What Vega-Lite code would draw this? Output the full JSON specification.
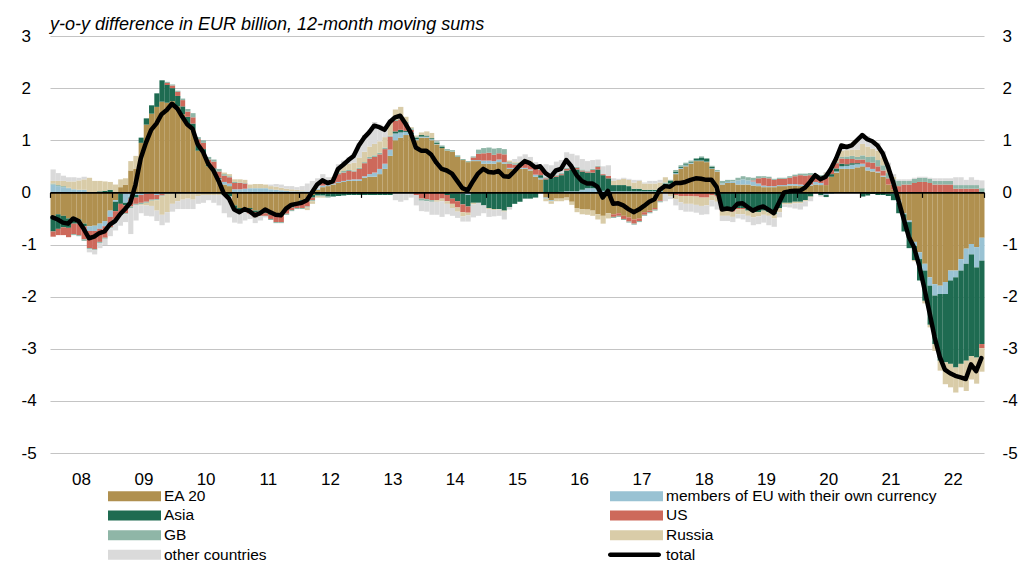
{
"$schema": "https://vega.github.io/schema/vega-lite/v6.json",
"width": 934, "height": 417,
"autosize": {"type": "none"},
"padding": {"left": 50, "top": 36, "right": 36, "bottom": 111},
"background": "white",
"title": {"text": "y-o-y difference in EUR billion, 12-month moving sums", "anchor": "start", "frame": "group", "orient": "top", "offset": 6, "dy": 27, "fontSize": 18, "fontStyle": "italic", "fontWeight": "normal", "color": "#000", "font": "Liberation Sans", "baseline": "alphabetic"},
"config": {"view": {"stroke": null}, "font": "Liberation Sans"},
"data": {"values": [
{"m":"2008-01-01","a":-0.45,"b":0.15,"c":-0.30,"d":-0.10,"e":0.02,"f":0.05,"g":0.22,"s":-0.48},
{"m":"2008-02-01","a":-0.42,"b":0.12,"c":-0.28,"d":-0.12,"e":0.02,"f":0.08,"g":0.15,"s":-0.52},
{"m":"2008-03-01","a":-0.45,"b":0.10,"c":-0.22,"d":-0.15,"e":0.02,"f":0.10,"g":0.10,"s":-0.58},
{"m":"2008-04-01","a":-0.50,"b":0.08,"c":-0.18,"d":-0.18,"e":0.01,"f":0.12,"g":0.08,"s":-0.60},
{"m":"2008-05-01","a":-0.48,"b":0.06,"c":-0.12,"d":-0.20,"e":-0.02,"f":0.15,"g":0.08,"s":-0.50},
{"m":"2008-06-01","a":-0.52,"b":0.05,"c":-0.08,"d":-0.22,"e":-0.02,"f":0.18,"g":0.05,"s":-0.55},
{"m":"2008-07-01","a":-0.60,"b":0.05,"c":-0.05,"d":-0.25,"e":-0.03,"f":0.20,"g":0.05,"s":-0.70},
{"m":"2008-08-01","a":-0.65,"b":-0.09,"c":0.00,"d":-0.33,"e":-0.02,"f":0.28,"g":-0.06,"s":-0.88},
{"m":"2008-09-01","a":-0.64,"b":-0.10,"c":0.00,"d":-0.35,"e":-0.02,"f":0.22,"g":-0.08,"s":-0.85},
{"m":"2008-10-01","a":-0.60,"b":-0.10,"c":0.02,"d":-0.25,"e":-0.02,"f":0.20,"g":-0.10,"s":-0.78},
{"m":"2008-11-01","a":-0.55,"b":-0.10,"c":0.03,"d":-0.22,"e":-0.02,"f":0.18,"g":-0.12,"s":-0.75},
{"m":"2008-12-01","a":-0.35,"b":-0.12,"c":0.05,"d":-0.20,"e":-0.02,"f":0.15,"g":-0.15,"s":-0.62},
{"m":"2009-01-01","a":-0.15,"b":-0.03,"c":-0.18,"d":-0.15,"e":-0.02,"f":0.15,"g":-0.20,"s":-0.55},
{"m":"2009-02-01","a":0.10,"b":-0.02,"c":-0.20,"d":-0.20,"e":-0.02,"f":0.15,"g":-0.20,"s":-0.42},
{"m":"2009-03-01","a":0.15,"b":-0.20,"c":-0.05,"d":-0.15,"e":-0.02,"f":0.12,"g":-0.15,"s":-0.32},
{"m":"2009-04-01","a":0.42,"b":-0.10,"c":-0.02,"d":-0.15,"e":-0.03,"f":0.18,"g":-0.50,"s":-0.20},
{"m":"2009-05-01","a":0.45,"b":-0.05,"c":-0.05,"d":-0.12,"e":-0.02,"f":0.25,"g":-0.30,"s":0.15},
{"m":"2009-06-01","a":0.95,"b":-0.05,"c":0.10,"d":-0.15,"e":-0.03,"f":-0.02,"g":-0.15,"s":0.65},
{"m":"2009-07-01","a":1.30,"b":-0.03,"c":0.12,"d":-0.15,"e":-0.02,"f":-0.05,"g":-0.20,"s":0.95},
{"m":"2009-08-01","a":1.51,"b":-0.02,"c":0.16,"d":-0.12,"e":-0.02,"f":-0.10,"g":-0.20,"s":1.20},
{"m":"2009-09-01","a":1.64,"b":-0.05,"c":0.26,"d":-0.08,"e":-0.02,"f":-0.20,"g":-0.20,"s":1.32},
{"m":"2009-10-01","a":1.74,"b":-0.03,"c":0.41,"d":-0.03,"e":-0.02,"f":-0.35,"g":-0.20,"s":1.50},
{"m":"2009-11-01","a":1.72,"b":-0.03,"c":0.34,"d":0.04,"e":0.02,"f":-0.35,"g":-0.20,"s":1.58},
{"m":"2009-12-01","a":1.75,"b":-0.02,"c":0.25,"d":0.05,"e":0.02,"f":-0.20,"g":-0.15,"s":1.70},
{"m":"2010-01-01","a":1.65,"b":-0.02,"c":0.20,"d":0.08,"e":0.02,"f":-0.15,"g":-0.15,"s":1.61},
{"m":"2010-02-01","a":1.50,"b":-0.02,"c":0.15,"d":0.12,"e":0.03,"f":-0.12,"g":-0.18,"s":1.45},
{"m":"2010-03-01","a":1.30,"b":-0.02,"c":0.15,"d":0.10,"e":0.05,"f":-0.10,"g":-0.20,"s":1.30},
{"m":"2010-04-01","a":1.20,"b":-0.02,"c":0.12,"d":0.12,"e":0.08,"f":-0.12,"g":-0.18,"s":1.22},
{"m":"2010-05-01","a":0.80,"b":-0.02,"c":0.10,"d":0.12,"e":0.04,"f":-0.05,"g":-0.15,"s":0.92},
{"m":"2010-06-01","a":0.75,"b":0.00,"c":0.08,"d":0.12,"e":0.05,"f":-0.05,"g":-0.15,"s":0.78},
{"m":"2010-07-01","a":0.50,"b":0.00,"c":0.03,"d":0.10,"e":0.05,"f":-0.05,"g":-0.10,"s":0.55},
{"m":"2010-08-01","a":0.42,"b":0.02,"c":0.02,"d":0.13,"e":0.04,"f":-0.05,"g":-0.15,"s":0.42},
{"m":"2010-09-01","a":0.23,"b":0.03,"c":0.02,"d":0.12,"e":0.05,"f":-0.05,"g":-0.20,"s":0.22},
{"m":"2010-10-01","a":0.15,"b":0.05,"c":-0.05,"d":0.12,"e":0.03,"f":0.03,"g":-0.35,"s":-0.02},
{"m":"2010-11-01","a":0.12,"b":0.05,"c":-0.08,"d":0.12,"e":0.02,"f":0.04,"g":-0.40,"s":-0.12},
{"m":"2010-12-01","a":-0.25,"b":0.06,"c":-0.05,"d":0.12,"e":0.02,"f":0.05,"g":-0.28,"s":-0.33},
{"m":"2011-01-01","a":-0.30,"b":0.06,"c":-0.05,"d":0.12,"e":0.01,"f":0.06,"g":-0.25,"s":-0.38},
{"m":"2011-02-01","a":-0.30,"b":0.07,"c":-0.04,"d":0.10,"e":0.01,"f":0.06,"g":-0.20,"s":-0.32},
{"m":"2011-03-01","a":-0.30,"b":0.08,"c":-0.03,"d":-0.08,"e":0.00,"f":0.07,"g":-0.10,"s":-0.36},
{"m":"2011-04-01","a":-0.35,"b":0.08,"c":-0.03,"d":-0.10,"e":-0.01,"f":0.08,"g":-0.10,"s":-0.44},
{"m":"2011-05-01","a":-0.35,"b":0.08,"c":-0.02,"d":-0.08,"e":-0.01,"f":0.08,"g":-0.08,"s":-0.40},
{"m":"2011-06-01","a":-0.38,"b":0.08,"c":-0.02,"d":-0.05,"e":-0.01,"f":0.07,"g":-0.02,"s":-0.33},
{"m":"2011-07-01","a":-0.40,"b":0.06,"c":-0.03,"d":-0.08,"e":-0.02,"f":0.06,"g":0.03,"s":-0.38},
{"m":"2011-08-01","a":-0.42,"b":0.05,"c":-0.03,"d":-0.12,"e":-0.02,"f":0.06,"g":0.05,"s":-0.43},
{"m":"2011-09-01","a":-0.40,"b":0.04,"c":-0.03,"d":-0.14,"e":-0.02,"f":0.05,"g":0.06,"s":-0.44},
{"m":"2011-10-01","a":-0.30,"b":0.03,"c":-0.03,"d":-0.08,"e":-0.02,"f":0.04,"g":0.05,"s":-0.31},
{"m":"2011-11-01","a":-0.25,"b":0.02,"c":-0.04,"d":-0.05,"e":-0.02,"f":0.04,"g":0.06,"s":-0.24},
{"m":"2011-12-01","a":-0.20,"b":0.02,"c":-0.05,"d":-0.05,"e":-0.02,"f":0.03,"g":0.05,"s":-0.22},
{"m":"2012-01-01","a":-0.15,"b":0.02,"c":-0.05,"d":-0.10,"e":-0.02,"f":0.02,"g":0.08,"s":-0.20},
{"m":"2012-02-01","a":-0.12,"b":0.02,"c":-0.05,"d":-0.10,"e":-0.02,"f":-0.05,"g":0.15,"s":-0.15},
{"m":"2012-03-01","a":-0.05,"b":0.02,"c":-0.05,"d":-0.05,"e":-0.02,"f":-0.05,"g":0.20,"s":0.00},
{"m":"2012-04-01","a":0.05,"b":0.02,"c":-0.05,"d":0.00,"e":-0.02,"f":-0.03,"g":0.20,"s":0.15},
{"m":"2012-05-01","a":0.10,"b":0.03,"c":-0.06,"d":0.05,"e":-0.02,"f":-0.02,"g":0.17,"s":0.23},
{"m":"2012-06-01","a":0.12,"b":0.02,"c":-0.08,"d":0.05,"e":-0.02,"f":0.00,"g":0.10,"s":0.18},
{"m":"2012-07-01","a":0.15,"b":0.02,"c":-0.08,"d":0.08,"e":0.02,"f":0.02,"g":0.00,"s":0.21},
{"m":"2012-08-01","a":0.18,"b":0.02,"c":-0.07,"d":0.15,"e":0.03,"f":0.08,"g":0.08,"s":0.45},
{"m":"2012-09-01","a":0.20,"b":0.02,"c":-0.06,"d":0.16,"e":0.03,"f":0.10,"g":0.10,"s":0.53},
{"m":"2012-10-01","a":0.22,"b":0.02,"c":-0.05,"d":0.17,"e":0.02,"f":0.12,"g":0.12,"s":0.62},
{"m":"2012-11-01","a":0.22,"b":0.03,"c":-0.05,"d":0.15,"e":0.02,"f":0.15,"g":0.18,"s":0.70},
{"m":"2012-12-01","a":0.22,"b":0.03,"c":-0.05,"d":0.20,"e":0.02,"f":0.20,"g":0.28,"s":0.90},
{"m":"2013-01-01","a":0.28,"b":0.03,"c":-0.05,"d":0.25,"e":0.02,"f":0.20,"g":0.32,"s":1.05},
{"m":"2013-02-01","a":0.30,"b":0.05,"c":-0.05,"d":0.30,"e":0.03,"f":0.20,"g":0.32,"s":1.15},
{"m":"2013-03-01","a":0.30,"b":0.08,"c":-0.05,"d":0.30,"e":0.03,"f":0.22,"g":0.42,"s":1.28},
{"m":"2013-04-01","a":0.35,"b":0.10,"c":-0.05,"d":0.28,"e":0.03,"f":0.22,"g":0.32,"s":1.25},
{"m":"2013-05-01","a":0.45,"b":0.10,"c":-0.05,"d":0.28,"e":0.03,"f":0.20,"g":0.20,"s":1.20},
{"m":"2013-06-01","a":0.70,"b":0.12,"c":-0.05,"d":0.25,"e":0.02,"f":0.25,"g":0.06,"s":1.35},
{"m":"2013-07-01","a":1.00,"b":0.13,"c":0.04,"d":0.20,"e":0.02,"f":0.20,"g":-0.15,"s":1.44},
{"m":"2013-08-01","a":1.05,"b":0.10,"c":0.05,"d":0.20,"e":0.02,"f":0.22,"g":-0.18,"s":1.47},
{"m":"2013-09-01","a":1.10,"b":0.06,"c":0.02,"d":0.15,"e":0.02,"f":0.10,"g":-0.15,"s":1.32},
{"m":"2013-10-01","a":1.10,"b":0.02,"c":0.03,"d":0.05,"e":0.03,"f":0.02,"g":-0.10,"s":1.15},
{"m":"2013-11-01","a":1.00,"b":0.02,"c":0.03,"d":-0.05,"e":0.02,"f":0.02,"g":-0.20,"s":0.86},
{"m":"2013-12-01","a":1.05,"b":0.02,"c":0.03,"d":-0.12,"e":-0.04,"f":0.05,"g":-0.20,"s":0.80},
{"m":"2014-01-01","a":1.05,"b":0.02,"c":0.02,"d":-0.13,"e":-0.04,"f":0.08,"g":-0.20,"s":0.80},
{"m":"2014-02-01","a":1.00,"b":0.02,"c":0.02,"d":-0.15,"e":-0.03,"f":0.10,"g":-0.25,"s":0.72},
{"m":"2014-03-01","a":0.92,"b":0.01,"c":0.02,"d":-0.15,"e":0.03,"f":-0.03,"g":-0.25,"s":0.57},
{"m":"2014-04-01","a":0.85,"b":0.00,"c":0.02,"d":-0.12,"e":0.03,"f":-0.05,"g":-0.30,"s":0.45},
{"m":"2014-05-01","a":0.80,"b":0.00,"c":-0.05,"d":-0.12,"e":0.03,"f":-0.05,"g":-0.20,"s":0.42},
{"m":"2014-06-01","a":0.78,"b":-0.02,"c":-0.10,"d":-0.10,"e":0.03,"f":-0.08,"g":-0.15,"s":0.36},
{"m":"2014-07-01","a":0.68,"b":-0.02,"c":-0.15,"d":-0.12,"e":0.03,"f":-0.08,"g":-0.12,"s":0.22},
{"m":"2014-08-01","a":0.62,"b":-0.03,"c":-0.20,"d":-0.15,"e":0.02,"f":-0.08,"g":-0.10,"s":0.08},
{"m":"2014-09-01","a":0.58,"b":-0.05,"c":-0.22,"d":-0.12,"e":0.02,"f":-0.05,"g":-0.12,"s":0.04},
{"m":"2014-10-01","a":0.60,"b":0.02,"c":-0.20,"d":0.05,"e":0.02,"f":-0.03,"g":-0.25,"s":0.21},
{"m":"2014-11-01","a":0.60,"b":0.02,"c":-0.20,"d":0.12,"e":0.08,"f":0.00,"g":-0.25,"s":0.36},
{"m":"2014-12-01","a":0.55,"b":0.06,"c":-0.25,"d":0.14,"e":0.10,"f":0.00,"g":-0.15,"s":0.45},
{"m":"2015-01-01","a":0.55,"b":0.06,"c":-0.30,"d":0.15,"e":0.10,"f":-0.02,"g":-0.15,"s":0.39},
{"m":"2015-02-01","a":0.55,"b":0.05,"c":-0.32,"d":0.12,"e":0.12,"f":-0.02,"g":-0.12,"s":0.38},
{"m":"2015-03-01","a":0.58,"b":0.05,"c":-0.32,"d":0.12,"e":0.10,"f":-0.01,"g":-0.12,"s":0.41},
{"m":"2015-04-01","a":0.55,"b":0.03,"c":-0.35,"d":0.15,"e":0.10,"f":-0.02,"g":-0.15,"s":0.31},
{"m":"2015-05-01","a":0.45,"b":0.02,"c":-0.28,"d":0.08,"e":0.03,"f":0.03,"g":-0.05,"s":0.30},
{"m":"2015-06-01","a":0.45,"b":0.02,"c":-0.22,"d":0.06,"e":0.03,"f":0.02,"g":0.06,"s":0.40},
{"m":"2015-07-01","a":0.45,"b":0.02,"c":-0.18,"d":0.06,"e":0.04,"f":0.02,"g":0.10,"s":0.51},
{"m":"2015-08-01","a":0.45,"b":0.02,"c":-0.12,"d":0.08,"e":0.05,"f":0.03,"g":0.10,"s":0.60},
{"m":"2015-09-01","a":0.42,"b":0.02,"c":-0.12,"d":0.10,"e":0.04,"f":0.02,"g":0.08,"s":0.56},
{"m":"2015-10-01","a":0.30,"b":0.04,"c":-0.10,"d":0.12,"e":0.03,"f":0.02,"g":0.07,"s":0.48},
{"m":"2015-11-01","a":0.25,"b":0.03,"c":0.05,"d":0.10,"e":0.02,"f":0.00,"g":0.05,"s":0.50},
{"m":"2015-12-01","a":-0.10,"b":-0.02,"c":0.25,"d":0.02,"e":0.02,"f":-0.05,"g":0.25,"s":0.37},
{"m":"2016-01-01","a":-0.15,"b":-0.02,"c":0.28,"d":0.02,"e":0.02,"f":-0.05,"g":0.20,"s":0.30},
{"m":"2016-02-01","a":-0.12,"b":0.00,"c":0.30,"d":0.02,"e":0.02,"f":-0.05,"g":0.25,"s":0.42},
{"m":"2016-03-01","a":-0.12,"b":0.01,"c":0.32,"d":0.02,"e":0.02,"f":-0.05,"g":0.25,"s":0.45},
{"m":"2016-04-01","a":-0.10,"b":0.02,"c":0.40,"d":0.03,"e":0.02,"f":-0.05,"g":0.30,"s":0.62},
{"m":"2016-05-01","a":-0.18,"b":0.02,"c":0.42,"d":0.03,"e":0.02,"f":-0.06,"g":0.25,"s":0.50},
{"m":"2016-06-01","a":-0.30,"b":0.02,"c":0.42,"d":0.03,"e":0.02,"f":-0.08,"g":0.22,"s":0.33},
{"m":"2016-07-01","a":-0.32,"b":0.05,"c":0.35,"d":0.02,"e":0.02,"f":-0.10,"g":0.20,"s":0.22},
{"m":"2016-08-01","a":-0.33,"b":0.08,"c":0.30,"d":0.02,"e":0.02,"f":-0.10,"g":0.18,"s":0.17},
{"m":"2016-09-01","a":-0.35,"b":0.08,"c":0.30,"d":0.05,"e":0.02,"f":-0.10,"g":0.17,"s":0.17},
{"m":"2016-10-01","a":-0.42,"b":0.06,"c":0.38,"d":0.05,"e":0.02,"f":-0.10,"g":0.12,"s":0.11},
{"m":"2016-11-01","a":-0.45,"b":0.03,"c":0.30,"d":0.02,"e":0.00,"f":-0.15,"g":0.15,"s":-0.10},
{"m":"2016-12-01","a":-0.40,"b":0.02,"c":0.25,"d":0.05,"e":0.00,"f":-0.10,"g":0.20,"s":0.03},
{"m":"2017-01-01","a":-0.42,"b":0.02,"c":0.12,"d":-0.05,"e":-0.02,"f":0.08,"g":0.05,"s":-0.22},
{"m":"2017-02-01","a":-0.40,"b":0.02,"c":0.12,"d":-0.05,"e":-0.02,"f":0.10,"g":0.02,"s":-0.21},
{"m":"2017-03-01","a":-0.45,"b":0.02,"c":0.12,"d":-0.06,"e":-0.02,"f":0.12,"g":0.02,"s":-0.25},
{"m":"2017-04-01","a":-0.48,"b":0.02,"c":0.10,"d":-0.08,"e":-0.02,"f":0.12,"g":0.02,"s":-0.32},
{"m":"2017-05-01","a":-0.52,"b":0.02,"c":0.05,"d":-0.08,"e":-0.02,"f":0.12,"g":0.05,"s":-0.38},
{"m":"2017-06-01","a":-0.50,"b":0.02,"c":0.05,"d":-0.05,"e":-0.02,"f":0.15,"g":0.02,"s":-0.33},
{"m":"2017-07-01","a":-0.38,"b":0.02,"c":0.03,"d":-0.05,"e":-0.02,"f":0.12,"g":0.02,"s":-0.26},
{"m":"2017-08-01","a":-0.35,"b":0.02,"c":0.03,"d":-0.03,"e":-0.02,"f":0.12,"g":0.05,"s":-0.18},
{"m":"2017-09-01","a":-0.30,"b":0.02,"c":0.03,"d":-0.03,"e":-0.02,"f":0.12,"g":0.05,"s":-0.13},
{"m":"2017-10-01","a":-0.15,"b":0.02,"c":0.05,"d":-0.02,"e":-0.02,"f":0.12,"g":0.05,"s":0.05},
{"m":"2017-11-01","a":0.10,"b":0.02,"c":0.05,"d":-0.02,"e":0.02,"f":0.10,"g":-0.15,"s":0.12},
{"m":"2017-12-01","a":0.15,"b":0.02,"c":0.05,"d":-0.03,"e":0.02,"f":-0.05,"g":-0.05,"s":0.11},
{"m":"2018-01-01","a":0.35,"b":0.02,"c":0.03,"d":-0.05,"e":0.03,"f":-0.08,"g":-0.12,"s":0.18},
{"m":"2018-02-01","a":0.45,"b":0.02,"c":0.02,"d":-0.07,"e":0.03,"f":-0.12,"g":-0.15,"s":0.18},
{"m":"2018-03-01","a":0.50,"b":0.02,"c":0.02,"d":-0.07,"e":0.03,"f":-0.15,"g":-0.15,"s":0.20},
{"m":"2018-04-01","a":0.55,"b":0.02,"c":0.02,"d":-0.07,"e":0.02,"f":-0.15,"g":-0.15,"s":0.24},
{"m":"2018-05-01","a":0.60,"b":0.01,"c":0.03,"d":-0.08,"e":0.02,"f":-0.16,"g":-0.15,"s":0.27},
{"m":"2018-06-01","a":0.60,"b":0.01,"c":0.06,"d":-0.10,"e":0.02,"f":-0.16,"g":-0.17,"s":0.26},
{"m":"2018-07-01","a":0.58,"b":0.01,"c":0.05,"d":-0.10,"e":0.02,"f":-0.15,"g":-0.17,"s":0.24},
{"m":"2018-08-01","a":0.45,"b":0.01,"c":0.03,"d":-0.05,"e":0.02,"f":-0.10,"g":-0.12,"s":0.24},
{"m":"2018-09-01","a":0.40,"b":0.01,"c":-0.05,"d":-0.03,"e":0.02,"f":-0.10,"g":-0.15,"s":0.10},
{"m":"2018-10-01","a":0.15,"b":0.02,"c":-0.30,"d":-0.05,"e":0.05,"f":-0.10,"g":-0.10,"s":-0.33},
{"m":"2018-11-01","a":0.18,"b":0.02,"c":-0.30,"d":-0.05,"e":0.04,"f":-0.10,"g":-0.10,"s":-0.31},
{"m":"2018-12-01","a":0.18,"b":0.03,"c":-0.32,"d":-0.05,"e":0.03,"f":-0.10,"g":-0.10,"s":-0.33},
{"m":"2019-01-01","a":0.15,"b":0.08,"c":-0.30,"d":-0.02,"e":0.05,"f":-0.10,"g":-0.08,"s":-0.22},
{"m":"2019-02-01","a":0.15,"b":0.10,"c":-0.30,"d":-0.02,"e":0.06,"f":-0.10,"g":-0.10,"s":-0.21},
{"m":"2019-03-01","a":0.15,"b":0.08,"c":-0.35,"d":0.00,"e":0.06,"f":-0.10,"g":-0.12,"s":-0.28},
{"m":"2019-04-01","a":0.13,"b":0.08,"c":-0.38,"d":0.02,"e":0.05,"f":-0.10,"g":-0.15,"s":-0.35},
{"m":"2019-05-01","a":0.12,"b":0.05,"c":-0.38,"d":0.10,"e":0.04,"f":-0.08,"g":-0.15,"s":-0.30},
{"m":"2019-06-01","a":0.10,"b":0.03,"c":-0.35,"d":0.15,"e":0.03,"f":-0.08,"g":-0.15,"s":-0.27},
{"m":"2019-07-01","a":0.10,"b":0.02,"c":-0.38,"d":0.15,"e":0.03,"f":-0.07,"g":-0.18,"s":-0.33},
{"m":"2019-08-01","a":0.10,"b":0.02,"c":-0.42,"d":0.12,"e":0.02,"f":-0.08,"g":-0.16,"s":-0.40},
{"m":"2019-09-01","a":0.12,"b":0.02,"c":-0.30,"d":0.12,"e":0.02,"f":-0.08,"g":-0.10,"s":-0.20},
{"m":"2019-10-01","a":0.12,"b":0.02,"c":-0.20,"d":0.12,"e":0.02,"f":-0.03,"g":-0.05,"s":0.00},
{"m":"2019-11-01","a":0.13,"b":0.03,"c":-0.20,"d":0.12,"e":0.03,"f":-0.03,"g":-0.06,"s":0.02},
{"m":"2019-12-01","a":0.13,"b":0.03,"c":-0.18,"d":0.15,"e":0.03,"f":-0.03,"g":-0.10,"s":0.03},
{"m":"2020-01-01","a":0.12,"b":0.03,"c":-0.18,"d":0.18,"e":0.03,"f":-0.03,"g":-0.12,"s":0.03},
{"m":"2020-02-01","a":0.12,"b":0.02,"c":-0.15,"d":0.18,"e":0.04,"f":-0.02,"g":-0.10,"s":0.09},
{"m":"2020-03-01","a":0.13,"b":0.02,"c":-0.08,"d":0.18,"e":0.04,"f":-0.02,"g":-0.07,"s":0.20},
{"m":"2020-04-01","a":0.15,"b":0.05,"c":0.00,"d":0.12,"e":0.03,"f":0.00,"g":-0.02,"s":0.33},
{"m":"2020-05-01","a":0.14,"b":0.04,"c":-0.05,"d":0.12,"e":0.03,"f":0.00,"g":-0.03,"s":0.25},
{"m":"2020-06-01","a":0.14,"b":-0.05,"c":-0.04,"d":0.15,"e":0.06,"f":0.02,"g":0.02,"s":0.30},
{"m":"2020-07-01","a":0.30,"b":-0.03,"c":0.05,"d":0.08,"e":0.03,"f":0.02,"g":0.00,"s":0.45},
{"m":"2020-08-01","a":0.38,"b":0.02,"c":0.06,"d":0.10,"e":0.02,"f":0.07,"g":0.00,"s":0.65},
{"m":"2020-09-01","a":0.45,"b":0.05,"c":0.05,"d":0.10,"e":0.03,"f":0.12,"g":0.10,"s":0.90},
{"m":"2020-10-01","a":0.45,"b":0.06,"c":0.03,"d":0.10,"e":0.05,"f":0.12,"g":0.06,"s":0.87},
{"m":"2020-11-01","a":0.45,"b":0.08,"c":0.03,"d":0.08,"e":0.06,"f":0.12,"g":0.08,"s":0.90},
{"m":"2020-12-01","a":0.48,"b":0.06,"c":0.02,"d":0.07,"e":0.05,"f":0.14,"g":0.18,"s":1.00},
{"m":"2021-01-01","a":0.50,"b":0.05,"c":-0.08,"d":0.08,"e":0.08,"f":0.22,"g":0.20,"s":1.10},
{"m":"2021-02-01","a":0.42,"b":0.06,"c":-0.06,"d":0.10,"e":0.10,"f":0.20,"g":0.20,"s":1.02},
{"m":"2021-03-01","a":0.40,"b":0.05,"c":-0.03,"d":0.12,"e":0.12,"f":0.15,"g":0.15,"s":0.98},
{"m":"2021-04-01","a":0.38,"b":0.02,"c":-0.05,"d":0.10,"e":0.12,"f":0.18,"g":0.15,"s":0.90},
{"m":"2021-05-01","a":0.30,"b":0.02,"c":-0.05,"d":0.10,"e":0.10,"f":0.15,"g":0.12,"s":0.75},
{"m":"2021-06-01","a":0.15,"b":-0.02,"c":-0.05,"d":0.12,"e":0.10,"f":0.12,"g":0.08,"s":0.50},
{"m":"2021-07-01","a":0.05,"b":-0.03,"c":-0.12,"d":0.10,"e":0.10,"f":0.05,"g":0.05,"s":0.20},
{"m":"2021-08-01","a":-0.15,"b":-0.05,"c":-0.20,"d":0.12,"e":0.10,"f":0.00,"g":0.03,"s":-0.15},
{"m":"2021-09-01","a":-0.40,"b":-0.02,"c":-0.33,"d":0.15,"e":0.07,"f":0.00,"g":0.03,"s":-0.50},
{"m":"2021-10-01","a":-0.54,"b":-0.03,"c":-0.50,"d":0.15,"e":0.07,"f":0.00,"g":0.03,"s":-0.85},
{"m":"2021-11-01","a":-0.95,"b":-0.08,"c":-0.27,"d":0.18,"e":0.08,"f":-0.02,"g":0.02,"s":-1.05},
{"m":"2021-12-01","a":-1.15,"b":-0.13,"c":-0.41,"d":0.20,"e":0.08,"f":0.00,"g":0.02,"s":-1.40},
{"m":"2022-01-01","a":-1.37,"b":-0.13,"c":-0.58,"d":0.20,"e":0.08,"f":-0.05,"g":0.02,"s":-1.85},
{"m":"2022-02-01","a":-1.63,"b":-0.16,"c":-0.75,"d":0.18,"e":0.08,"f":-0.05,"g":0.02,"s":-2.30},
{"m":"2022-03-01","a":-1.76,"b":-0.22,"c":-0.93,"d":0.15,"e":0.07,"f":-0.13,"g":0.05,"s":-2.77},
{"m":"2022-04-01","a":-1.79,"b":-0.16,"c":-1.28,"d":0.15,"e":0.07,"f":-0.19,"g":0.05,"s":-3.15},
{"m":"2022-05-01","a":-1.72,"b":-0.23,"c":-1.31,"d":0.15,"e":0.07,"f":-0.42,"g":0.05,"s":-3.40},
{"m":"2022-06-01","a":-1.50,"b":-0.19,"c":-1.60,"d":0.15,"e":0.07,"f":-0.45,"g":0.05,"s":-3.47},
{"m":"2022-07-01","a":-1.50,"b":-0.13,"c":-1.73,"d":0.07,"e":0.07,"f":-0.48,"g":0.15,"s":-3.52},
{"m":"2022-08-01","a":-1.28,"b":-0.22,"c":-1.79,"d":0.07,"e":0.07,"f":-0.45,"g":0.15,"s":-3.55},
{"m":"2022-09-01","a":-1.08,"b":-0.29,"c":-1.86,"d":0.07,"e":0.07,"f":-0.58,"g":0.10,"s":-3.58},
{"m":"2022-10-01","a":-0.99,"b":-0.20,"c":-1.95,"d":0.07,"e":0.07,"f":-0.45,"g":0.15,"s":-3.30},
{"m":"2022-11-01","a":-1.05,"b":-0.39,"c":-1.73,"d":0.07,"e":0.07,"f":-0.50,"g":0.10,"s":-3.43},
{"m":"2022-12-01","a":-0.87,"b":-0.44,"c":-1.60,"d":-0.08,"e":0.08,"f":-0.45,"g":0.15,"s":-3.18}
]},
"layer": [
{
"transform": [{"fold": ["a","b","c","d","e","f","g"], "as": ["k","v"]}],
"mark": {"type": "bar", "binSpacing": 0},
"encoding": {
"x": {"field": "m", "timeUnit": "utcyearmonth", "type": "temporal",
 "scale": {"domain": [{"year": 2008, "month": 1, "date": 1, "utc": true}, {"year": 2023, "month": 1, "date": 1, "utc": true}]},
 "axis": {"title": null, "grid": false, "offset": -260.6, "zindex": 1,
  "values": [{"year":2008,"month":1,"date":1,"utc":true},{"year":2009,"month":1,"date":1,"utc":true},{"year":2010,"month":1,"date":1,"utc":true},{"year":2011,"month":1,"date":1,"utc":true},{"year":2012,"month":1,"date":1,"utc":true},{"year":2013,"month":1,"date":1,"utc":true},{"year":2014,"month":1,"date":1,"utc":true},{"year":2015,"month":1,"date":1,"utc":true},{"year":2016,"month":1,"date":1,"utc":true},{"year":2017,"month":1,"date":1,"utc":true},{"year":2018,"month":1,"date":1,"utc":true},{"year":2019,"month":1,"date":1,"utc":true},{"year":2020,"month":1,"date":1,"utc":true},{"year":2021,"month":1,"date":1,"utc":true},{"year":2022,"month":1,"date":1,"utc":true},{"year":2023,"month":1,"date":1,"utc":true}],
  "labelExpr": "utcyear(datum.value) >= 2023 ? '' : utcFormat(datum.value, '%y')",
  "domainColor": "#000", "domainWidth": 1.6, "tickColor": "#000", "tickWidth": 1.2, "tickSize": 5,
  "labelOffset": 31, "labelPadding": 274, "labelFontSize": 17, "labelColor": "#000", "labelFont": "Liberation Sans",
  "labelFlush": false, "labelOverlap": false}},
"y": {"field": "v", "type": "quantitative", "stack": "zero",
 "scale": {"domain": [-5, 3], "nice": false, "zero": false},
 "axis": {"orient": "left", "title": null, "values": [-5,-4,-3,-2,-1,0,1,2,3], "grid": true, "gridColor": "#c4c4c4", "gridWidth": 1.2,
  "domain": false, "ticks": false, "labelPadding": 29, "labelAlign": "left", "labelExpr": "'' + datum.value", "labelFontSize": 17, "labelColor": "#000", "labelFont": "Liberation Sans", "labelFlush": false}},
"color": {"field": "k", "type": "nominal",
 "scale": {"domain": ["a","b","c","d","e","f","g","h"], "range": ["#B0904F","#99C2D3","#1E6B51","#CD695B","#8FB6A7","#D9CCA8","#DADADA","#000000"]},
 "legend": {"orient": "none", "legendX": 56, "legendY": 452, "direction": "horizontal", "columns": 2, "columnPadding": 341, "rowPadding": 2.7, "padding": 0,
  "title": null, "symbolType": "square", "symbolSize": 100, "symbolStrokeWidth": 0, "labelFontSize": 15.5, "labelColor": "#000", "labelFont": "Liberation Sans", "labelOffset": 42.5, "labelLimit": 400,
  "labelExpr": "datum.label === 'a' ? 'EA 20' : datum.label === 'b' ? 'members of EU with their own currency' : datum.label === 'c' ? 'Asia' : datum.label === 'd' ? 'US' : datum.label === 'e' ? 'GB' : datum.label === 'f' ? 'Russia' : datum.label === 'g' ? 'other countries' : 'total'",
  "encode": {"symbols": {"update": {
   "shape": {"signal": "datum.value === 'h' ? 'M-1.1,-0.45L8.6,-0.45A0.45,0.45 0 0 1 8.6,0.45L-1.1,0.45A0.45,0.45 0 0 1 -1.1,-0.45Z' : 'M-1.15,-1L9.45,-1L9.45,1L-1.15,1Z'"},
   "fill": {"signal": "scale('color', datum.value)"},
   "strokeWidth": {"value": 0},
   "opacity": {"value": 1}}}}}},
"order": {"field": "k", "sort": "ascending"}
}
},
{
"mark": {"type": "line", "strokeWidth": 4.5, "strokeJoin": "round", "strokeCap": "round"},
"encoding": {
"x": {"field": "m", "timeUnit": "utcyearmonth", "type": "temporal", "bandPosition": 0.5},
"y": {"field": "s", "type": "quantitative",
 "scale": {"domain": [-5, 3], "nice": false, "zero": false},
 "axis": {"orient": "right", "title": null, "values": [-5,-4,-3,-2,-1,0,1,2,3], "grid": false, "domain": false, "ticks": false, "labelPadding": 18, "labelExpr": "'' + datum.value", "labelFontSize": 17, "labelColor": "#000", "labelFont": "Liberation Sans", "labelFlush": false}},
"color": {"datum": "h"}
}
}
],
"resolve": {"scale": {"y": "independent"}, "axis": {"y": "independent"}}
}
